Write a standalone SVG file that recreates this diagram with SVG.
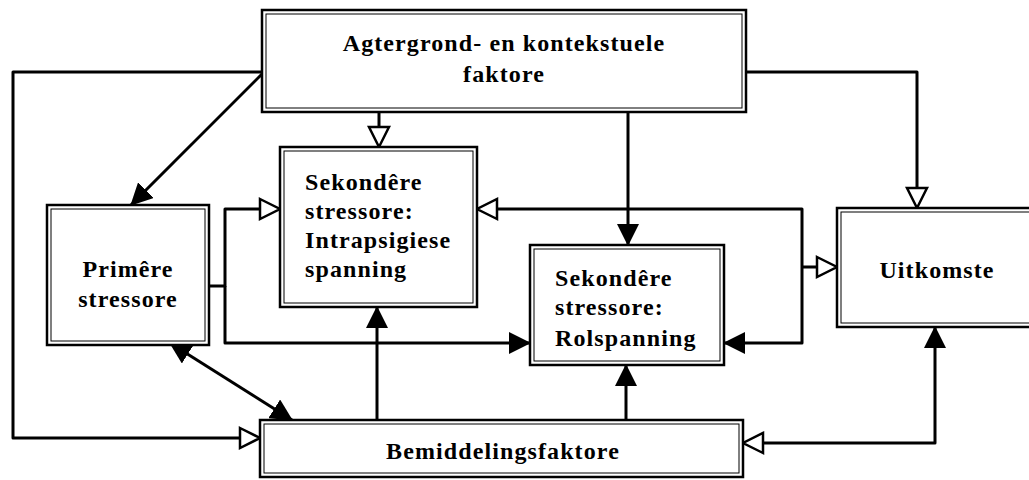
<svg xmlns="http://www.w3.org/2000/svg" width="1029" height="480" viewBox="0 0 1029 480">
<style>
.outer{fill:#fff;stroke:#000;stroke-width:2.5}
.inner{fill:none;stroke:#000;stroke-width:1}
.t{font-family:"Liberation Serif","Times New Roman",serif;font-weight:bold;font-size:24px;letter-spacing:1.1px;fill:#000}
.c{text-anchor:middle}
.ln{fill:none;stroke:#000;stroke-width:3;stroke-linejoin:round}
</style>
<defs>
<marker id="filled" viewBox="0 0 22 22" refX="21" refY="11" markerWidth="22" markerHeight="22" markerUnits="userSpaceOnUse" orient="auto-start-reverse">
<path d="M0,0 L22,11 L0,22 z" fill="#000"/>
</marker>
<marker id="hollow" viewBox="-2 -2 26 26" refX="21" refY="11" markerWidth="26" markerHeight="26" markerUnits="userSpaceOnUse" orient="auto-start-reverse">
<path d="M1,1 L21,11 L1,21 z" fill="#fff" stroke="#000" stroke-width="2.5" stroke-linejoin="miter"/>
</marker>
</defs>
<rect width="1029" height="480" fill="#fff"/>
<g id="connectors">
<path class="ln" d="M262,72 H13 V438 H260" marker-end="url(#hollow)"/>
<path class="ln" d="M262,74 L131,205" marker-end="url(#filled)"/>
<path class="ln" d="M379,112 V147" marker-end="url(#hollow)"/>
<path class="ln" d="M628,112 V245" marker-end="url(#filled)"/>
<path class="ln" d="M746,72 H917 V208" marker-end="url(#hollow)"/>
<path class="ln" d="M209,286 H225 V209 H280" marker-end="url(#hollow)"/>
<path class="ln" d="M225,286 V343 H530" marker-end="url(#filled)"/>
<path class="ln" d="M802,267 V209 H477" marker-end="url(#hollow)"/>
<path class="ln" d="M802,267 V343 H724" marker-end="url(#filled)"/>
<path class="ln" d="M802,267 H837" marker-end="url(#hollow)"/>
<path class="ln" d="M377,420 V307" marker-end="url(#filled)"/>
<path class="ln" d="M626,420 V365" marker-end="url(#filled)"/>
<path class="ln" d="M170,343 L292,420" marker-start="url(#filled)" marker-end="url(#filled)"/>
<path class="ln" d="M935,327 V443 H743" marker-start="url(#filled)" marker-end="url(#hollow)"/>
</g>
<g id="node-agtergrond">
<rect class="outer" x="262" y="10" width="484" height="102"/>
<rect class="inner" x="266" y="14" width="476" height="94"/>
<text class="t c" x="504" y="51">Agtergrond- en kontekstuele</text>
<text class="t c" x="504" y="82">faktore</text>
</g>
<g id="node-primere">
<rect class="outer" x="47" y="205" width="162" height="140"/>
<rect class="inner" x="51" y="209" width="154" height="132"/>
<text class="t c" x="128" y="277">Primêre</text>
<text class="t c" x="128" y="307">stressore</text>
</g>
<g id="node-intrapsigiese">
<rect class="outer" x="280" y="147" width="197" height="160"/>
<rect class="inner" x="284" y="151" width="189" height="152"/>
<text class="t" x="305" y="190">Sekondêre</text>
<text class="t" x="305" y="219">stressore:</text>
<text class="t" x="305" y="248">Intrapsigiese</text>
<text class="t" x="305" y="277">spanning</text>
</g>
<g id="node-rolspanning">
<rect class="outer" x="530" y="245" width="194" height="120"/>
<rect class="inner" x="534" y="249" width="186" height="112"/>
<text class="t" x="555" y="286">Sekondêre</text>
<text class="t" x="555" y="315">stressore:</text>
<text class="t" x="555" y="346">Rolspanning</text>
</g>
<g id="node-uitkomste">
<rect class="outer" x="837" y="208" width="200" height="119"/>
<rect class="inner" x="841" y="212" width="192" height="111"/>
<text class="t c" x="937" y="278">Uitkomste</text>
</g>
<g id="node-bemiddeling">
<rect class="outer" x="260" y="420" width="483" height="57"/>
<rect class="inner" x="264" y="424" width="475" height="49"/>
<text class="t c" x="503" y="459">Bemiddelingsfaktore</text>
</g>
</svg>
